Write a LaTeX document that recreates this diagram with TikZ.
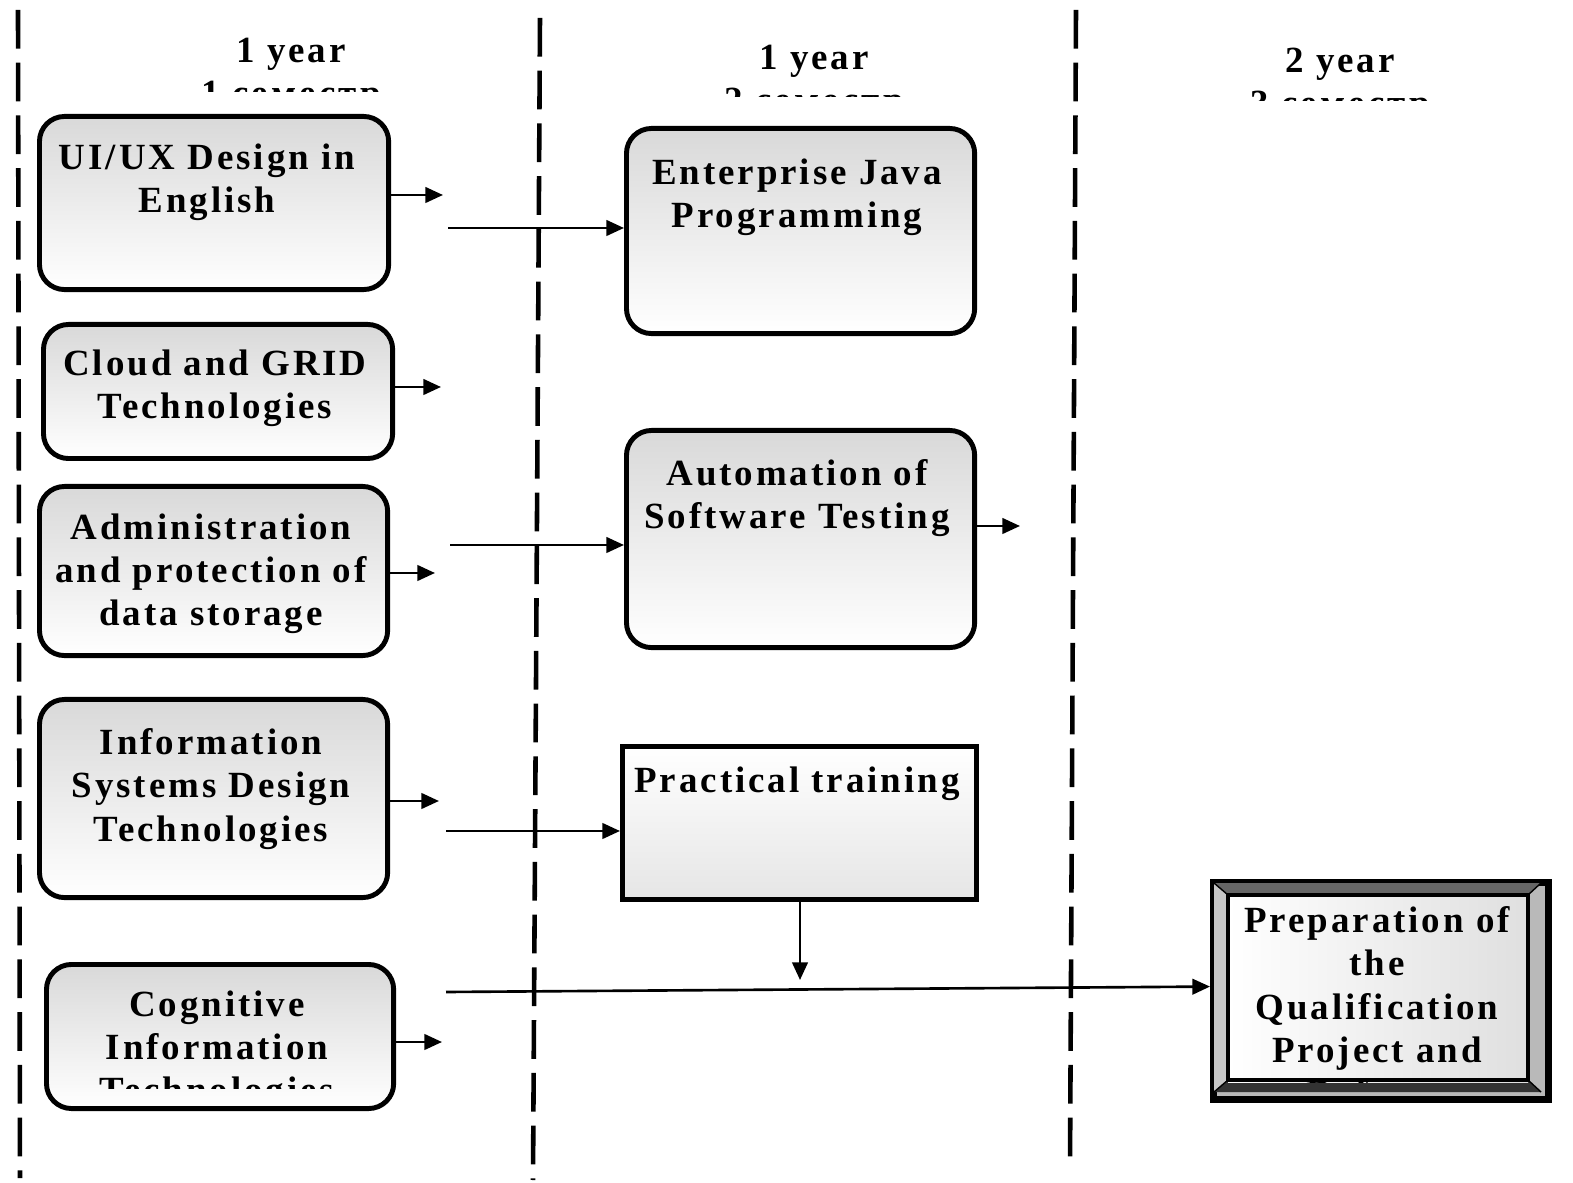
\documentclass[tikz,border=0pt]{standalone}
\usepackage{fontspec}
\setmainfont{Liberation Serif}[LetterSpace=8]
\usetikzlibrary{arrows.meta,positioning,calc}

\begin{document}
\begin{tikzpicture}[x=0.01cm, y=-0.01cm,
  course/.style={
    draw, line width=1.4pt, rounded corners=0.25cm, inner sep=0pt,
    top color=gray!30, bottom color=white, anchor=north west
  },
  practice/.style={course, rounded corners=0pt, top color=white, bottom color=gray!20},
  lbl/.style={font=\fontsize{10.5}{12.3}\selectfont\bfseries, align=center, anchor=north, inner sep=0pt},
  semline/.style={line width=1.3pt, dash pattern=on 11pt off 4pt},
  arr/.style={-{Triangle[length=5pt,width=4.4pt]}, line width=0.75pt},
]
\useasboundingbox (0,0) rectangle (1573,1183);

% semester borders
\draw[semline] (18,10) -- (20,1178);
\draw[semline] (540,18) -- (533,1180);
\draw[semline] (1076,10) -- (1070,1168);

% headers
\begin{scope}
  \clip (150,0) rectangle (450,92);
  \node[lbl] (head1) at (291,37) {1 year\\1 семестр};
\end{scope}
\begin{scope}
  \clip (680,0) rectangle (960,97);
  \node[lbl] (head2) at (814,44) {1 year\\2 семестр};
\end{scope}
\begin{scope}
  \clip (1200,0) rectangle (1480,101);
  \node[lbl] (head3) at (1340,47) {2 year\\3 семестр};
\end{scope}

% 1 semester
\node[course, minimum width=3.49cm, minimum height=1.73cm] (ui) at (37,114) {};
\node[lbl] (uit) at (207,143) {UI/UX Design in\\English};
\node[course, minimum width=3.49cm, minimum height=1.34cm] (cloud) at (41,322) {};
\node[lbl] (cloudt) at (215,349) {Cloud and GRID\\Technologies};
\node[course, minimum width=3.48cm, minimum height=1.69cm] (adm) at (37,484) {};
\node[lbl] (admt) at (211,513) {Administration\\and protection of\\data storage};
\node[course, minimum width=3.48cm, minimum height=1.98cm] (info) at (37,697) {};
\node[lbl] (infot) at (211,728) {Information\\Systems Design\\Technologies};
\node[course, minimum width=3.47cm, minimum height=1.44cm] (cog) at (44,962) {};
\begin{scope}
  \clip (44,962) rectangle (391,1088);
  \node[lbl] (cogt) at (217,990) {Cognitive\\Information\\Technologies};
\end{scope}

% 2 semester
\node[course, minimum width=3.48cm, minimum height=2.05cm] (ent) at (624,126) {};
\node[lbl] (entt) at (797,158) {Enterprise Java\\Programming};
\node[course, minimum width=3.48cm, minimum height=2.17cm] (auto) at (624,428) {};
\node[lbl] (autot) at (797,459) {Automation of\\Software Testing};
\node[practice, minimum width=3.54cm, minimum height=1.53cm] (prac) at (620,744) {};
\node[lbl] (pract) at (797,766) {Practical training};

% 3 semester
\node[draw, line width=2pt, fill=gray!55, inner sep=0pt, anchor=north west,
      minimum width=3.35cm, minimum height=2.17cm] (prep) at (1210,879) {};
\fill[gray!80!black] (1214,883) -- (1228,895) -- (1528,895) -- (1541,883) -- cycle;
\fill[black!80] (1214,1092) -- (1228,1080) -- (1528,1080) -- (1541,1092) -- cycle;
\fill[gray!45] (1214,883) -- (1228,895) -- (1228,1080) -- (1214,1092) -- cycle;
\draw[line width=0.4pt] (1214,883) -- (1228,895) (1541,883) -- (1528,895)
  (1214,1092) -- (1228,1080) (1541,1092) -- (1528,1080);
\begin{scope}
  \clip (1228,895) rectangle (1528,1082);
  \shade[left color=white, right color=gray!25] (1228,895) rectangle (1528,1082);
  \node[lbl] (prept) at (1377,906) {Preparation of\\the\\Qualification\\Project and\\Defense};
\end{scope}
\draw[line width=1.4pt] (1228,895) rectangle (1528,1080);

% connectors
\coordinate (uiend) at (443,195);
\coordinate (cloudend) at (441,387);
\coordinate (admend) at (435,573);
\coordinate (infoend) at (439,801);
\coordinate (cogend) at (442,1042);
\coordinate (autoend) at (1020,526);
\coordinate (pracend) at (800,980);
\draw[arr] (ui.east |- uiend) -- (uiend);
\draw[arr] (cloud.east |- cloudend) -- (cloudend);
\draw[arr] (adm.east |- admend) -- (admend);
\draw[arr] (info.east |- infoend) -- (infoend);
\draw[arr] (cog.east |- cogend) -- (cogend);
\draw[arr] (auto.east |- autoend) -- (autoend);
\draw[arr] (prac.south -| pracend) -- (pracend);

\coordinate (s1) at (448,228);
\coordinate (s2) at (450,545);
\coordinate (s3) at (446,831);
\coordinate (s4) at (446,992);
\draw[arr] (s1) -- (ent.west |- s1);
\draw[arr] (s2) -- (auto.west |- s2);
\draw[arr] (s3) -- (prac.west |- s3);
\draw[arr] (s4) -- ([yshift=0.045cm]prep.west);
\end{tikzpicture}
\end{document}
